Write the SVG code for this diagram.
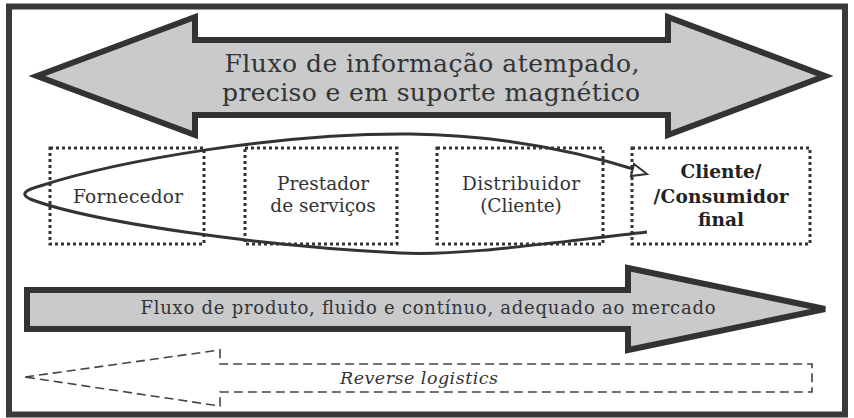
<svg xmlns="http://www.w3.org/2000/svg" width="854" height="418" viewBox="0 0 854 418">
<style>
.frame{fill:#fff;stroke:#3a3a3a;stroke-width:6}
.big{fill:#c9cacc;stroke:#333;stroke-width:6;stroke-linejoin:miter}
.dot{fill:none;stroke:#333;stroke-width:3;stroke-dasharray:3 3}
.dash{fill:none;stroke:#444;stroke-width:1.6;stroke-dasharray:9 5}
.t{font-family:"DejaVu Serif","Liberation Serif",serif;fill:#333;text-anchor:middle}
.b{font-weight:bold;fill:#222}
.loop{fill:none;stroke:#333;stroke-width:3}
</style>
<rect class="frame" x="9" y="6.5" width="836" height="408"/>
<g id="info-flow">
<path class="big" d="M37 76 L195 17 L195 40 L668 40 L668 17 L825 76 L668 135 L668 115 L195 115 L195 135 Z"/>
<text class="t" x="432" y="72" font-size="25" textLength="415" lengthAdjust="spacing">Fluxo de informação atempado,</text>
<text class="t" x="431" y="101" font-size="25" textLength="418" lengthAdjust="spacing">preciso e em suporte magnético</text>
</g>
<g id="fornecedor">
<rect class="dot" x="50" y="148" width="154" height="96"/>
<text class="t" x="128" y="203" font-size="18.5" textLength="110" lengthAdjust="spacing">Fornecedor</text>
</g>
<g id="prestador">
<rect class="dot" x="245" y="148" width="152" height="96"/>
<text class="t" x="323" y="190" font-size="18.5">Prestador</text>
<text class="t" x="323" y="212" font-size="18.5">de serviços</text>
</g>
<g id="distribuidor">
<rect class="dot" x="437" y="148" width="166" height="96"/>
<text class="t" x="521" y="190" font-size="18.5" textLength="118" lengthAdjust="spacing">Distribuidor</text>
<text class="t" x="521" y="212" font-size="18.5">(Cliente)</text>
</g>
<g id="cliente">
<rect class="dot" x="632" y="148" width="178" height="96"/>
<text class="t b" x="721" y="178" font-size="18.5">Cliente/</text>
<text class="t b" x="721" y="203" font-size="18.5" textLength="135" lengthAdjust="spacing">/Consumidor</text>
<text class="t b" x="721" y="226" font-size="18.5">final</text>
</g>
<g id="connectors">
<path class="loop" d="M647 232 C540 244 460 256 400 253 C260 246 90 222 30 199 C20 194 25 190 40 186 C120 160 280 133 410 134 C500 135 580 152 640 171"/>
<path d="M634 164 L647 174 L631 176 Z" fill="#fff" stroke="#333" stroke-width="2" stroke-linejoin="miter"/>
</g>
<g id="product-flow">
<path class="big" d="M27 290 L628 290 L628 268 L825 309 L628 350 L628 329 L27 329 Z"/>
<text class="t" x="428" y="314" font-size="18" textLength="575" lengthAdjust="spacing">Fluxo de produto, fluido e contínuo, adequado ao mercado</text>
</g>
<g id="reverse-logistics">
<path class="dash" d="M25 377 L220 350 L220 364 L812 364 L812 392 L220 392 L220 406 Z"/>
<text class="t" x="419" y="384" font-size="17.5" font-style="italic" textLength="158" lengthAdjust="spacing">Reverse logistics</text>
</g>
</svg>
